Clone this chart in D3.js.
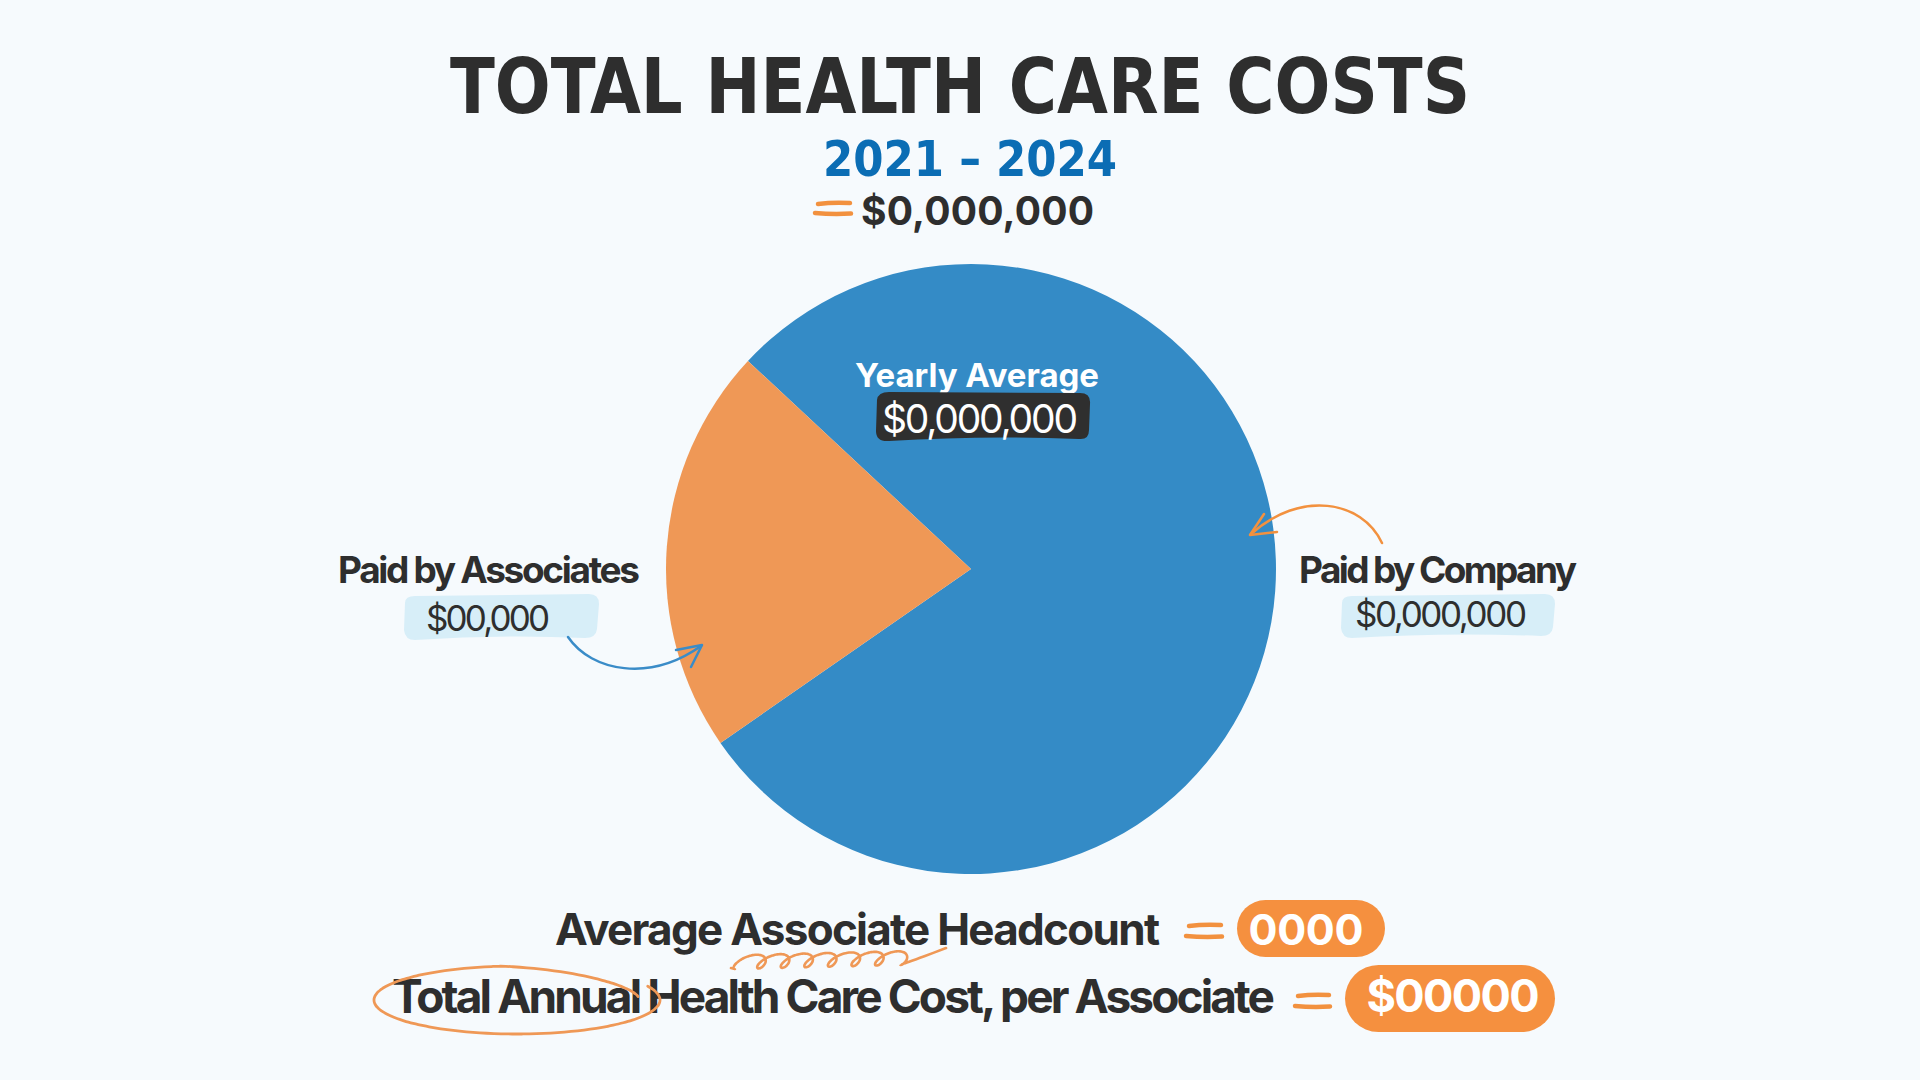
<!DOCTYPE html>
<html>
<head>
<meta charset="utf-8">
<script src="https://cdn.jsdelivr.net/npm/d3@7"></script>
<style>
  html, body { margin: 0; padding: 0; background: #f6fafd; }
  svg { display: block; }
</style>
</head>
<body>
<svg id="chart" width="1920" height="1080"></svg>
<script>
// ---- data ----
const categories = ["Paid by Company", "Paid by Associates"];
const shares = [78.4, 21.6];
const categoryAmounts = ["$0,000,000", "$00,000"];
const titleText = "TOTAL HEALTH CARE COSTS";
const periodText = "2021 – 2024";
const totalAmount = "$0,000,000";
const yearlyLabel = "Yearly Average";
const yearlyAmount = "$0,000,000";
const headcountLabel = "Average Associate Headcount";
const headcountValue = "0000";
const perAssocLabel = "Total Annual Health Care Cost, per Associate";
const perAssocValue = "$00000";

// ---- style ----
const DARK = "#2e2e2e";
const BLUE = "#348bc6";
const ORANGE = "#ef9856";
const PILL = "#f5903f";
const STROKE_OR = "#f2913f";
const LIGHT = "#d7eef8";

const svg = d3.select("#chart");
svg.append("rect").attr("width", 1920).attr("height", 1080).attr("fill", "#f6fafd");

function txt(s, x, y, opts) {
  const t = svg.append("text")
    .attr("x", x).attr("y", y)
    .attr("text-anchor", opts.anchor || "middle")
    .attr("font-family", opts.family || "Inter, 'Noto Sans', sans-serif")
    .attr("font-weight", opts.weight || 700)
    .attr("font-size", opts.size)
    .attr("fill", opts.fill || DARK)
    .text(s);
  if (opts.len) t.attr("textLength", opts.len).attr("lengthAdjust", opts.adjust || "spacing");
  return t;
}

// ---- header ----
const COND = "'DejaVu Sans Condensed', 'DejaVu Sans', sans-serif";
txt(titleText, 960, 113, {family: COND, size: 77, len: 1020, adjust: "spacingAndGlyphs"});
txt(periodText, 970, 176, {family: COND, size: 50, len: 294, fill: "#0b6db4", adjust: "spacingAndGlyphs"});
txt(totalAmount, 861, 225, {anchor: "start", size: 39, len: 233});

function equals(x0, x1, y0, y1) {
  const g = svg.append("g").attr("stroke", STROKE_OR).attr("stroke-linecap", "round").attr("fill", "none");
  g.append("path").attr("d", `M${x0+3},${y0+1} Q${(x0+x1)/2},${y0-1} ${x1-1},${y0}`).attr("stroke-width", 4.5);
  g.append("path").attr("d", `M${x0},${y1} Q${(x0+x1)/2},${y1+1.5} ${x1},${y1+0.5}`).attr("stroke-width", 4.5);
}
equals(815, 851, 203, 213);

// ---- pie ----
const cx = 971, cy = 569, R = 305;
const color = d3.scaleOrdinal().domain(categories).range([BLUE, ORANGE]);
const pie = d3.pie().sort(null).value(d => d.v)
  .startAngle(-47 * Math.PI / 180).endAngle(313 * Math.PI / 180);
const arcs = pie(categories.map((c, i) => ({c, v: shares[i]})));
const arc = d3.arc().innerRadius(0).outerRadius(R);
svg.append("g").attr("transform", `translate(${cx},${cy})`)
  .selectAll("path").data(arcs).join("path")
  .attr("d", arc).attr("fill", d => color(d.data.c));

// yearly average label
txt(yearlyLabel, 977, 387, {size: 33, len: 244, fill: "#ffffff"});
svg.append("path")
  .attr("d", "M877,400 Q878,392 889,392 L1080,393 Q1091,393 1090,404 L1089,430 Q1089,440 1079,439 Q985,435 889,441 Q876,442 876,431 Z")
  .attr("fill", "#2f2f2f");
txt(yearlyAmount, 980, 433, {size: 39, weight: 400, len: 196, fill: "#ffffff"});

// side labels
function lightBox(x0, x1, y0, y1) {
  svg.append("path")
    .attr("d", `M${x0+2},${y0+8} Q${x0+2},${y0+1} ${x0+12},${y0+1} L${x1-10},${y0-1} Q${x1},${y0-1} ${x1},${y0+9} L${x1-2},${y1-10} Q${x1-3},${y1-1} ${x1-14},${y1-1} Q${(x0+x1)/2},${y1-5} ${x0+12},${y1+1} Q${x0+2},${y1+1} ${x0+1},${y1-9} Z`)
    .attr("fill", LIGHT);
}
// associates (index 1)
txt(categories[1], 489, 583, {size: 37, len: 302});
lightBox(403, 599, 595, 639);
txt(categoryAmounts[1], 488, 631, {size: 35, weight: 400, len: 124});
// company (index 0)
txt(categories[0], 1438, 583, {size: 37, len: 278});
lightBox(1340, 1555, 595, 637);
txt(categoryAmounts[0], 1441, 627, {size: 35, weight: 400, len: 172});

// arrows
const blueArrow = svg.append("g").attr("fill", "none").attr("stroke", "#3a8cc8").attr("stroke-width", 2.5).attr("stroke-linecap", "round").attr("stroke-linejoin", "round");
blueArrow.append("path").attr("d", "M568,637 C592,672 650,682 701,646");
blueArrow.append("path").attr("d", "M676,650 L702,645 L691,667");
const orArrow = svg.append("g").attr("fill", "none").attr("stroke", STROKE_OR).attr("stroke-width", 2.5).attr("stroke-linecap", "round").attr("stroke-linejoin", "round");
orArrow.append("path").attr("d", "M1382,543 C1362,500 1300,490 1251,534");
orArrow.append("path").attr("d", "M1264,514 L1250,535 L1277,532");

// ---- bottom ----
// cursive squiggle under "Associate"
(function () {
  const pts = [[731, 968]];
  const x0 = 740, x1 = 905, n = 7;
  for (let t = 0; t <= n * 2 * Math.PI; t += 0.1) {
    const f = t / (n * 2 * Math.PI);
    const h = -Math.cos(t);            // +1 at top of loop
    const x = x0 + (x1 - x0) * f - 8 * Math.sin(t) + 5 * h;
    const y = 958 - 7 * h + 4 * (1 - f);
    pts.push([x, y]);
  }
  pts.push([925, 956], [946, 948]);
  svg.append("path")
    .attr("d", d3.line().curve(d3.curveCatmullRom)(pts))
    .attr("fill", "none").attr("stroke", ORANGE).attr("stroke-width", 2.6).attr("stroke-linecap", "round");
})();

txt(headcountLabel, 555, 945, {anchor: "start", size: 44, len: 605});
equals(1186, 1222, 925, 936);
svg.append("rect").attr("x", 1237).attr("y", 900).attr("width", 148).attr("height", 57).attr("rx", 28.5).attr("fill", PILL);
txt(headcountValue, 1306, 945, {size: 43, len: 115, fill: "#ffffff"});

txt(perAssocLabel, 392, 1013, {anchor: "start", size: 46, len: 883});
equals(1295, 1330, 995, 1006);
svg.append("rect").attr("x", 1345).attr("y", 965).attr("width", 210).attr("height", 67).attr("rx", 33.5).attr("fill", PILL);
txt(perAssocValue, 1453, 1012, {size: 45, len: 173, fill: "#ffffff"});

// hand-drawn ellipse around "Total Annual"
(function () {
  const pts = [];
  const ecx = 517, ecy = 1000;
  const t0 = -0.25, t1 = -0.25 - 2 * Math.PI - 0.2;
  for (let t = t0; t >= t1; t -= 0.05) {
    const f = (t0 - t) / (t0 - t1);
    const k = Math.min(1, f / 0.22);
    const rx = 125 + 18 * k;
    const ry = 22 + 12 * k;
    const ex = rx * Math.cos(t), ey = ry * Math.sin(t);
    pts.push([ecx + ex, ecy + ey + 2 * (1 - k)]);
  }
  svg.append("path")
    .attr("d", d3.line().curve(d3.curveCatmullRom)(pts))
    .attr("fill", "none").attr("stroke", ORANGE).attr("stroke-width", 2.8).attr("stroke-linecap", "round");
})();
</script>
</body>
</html>
